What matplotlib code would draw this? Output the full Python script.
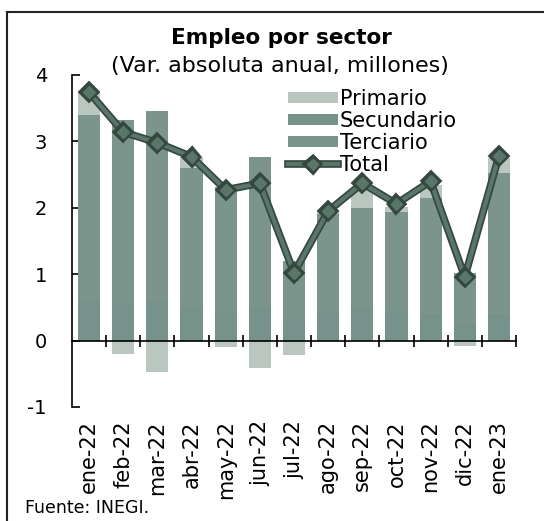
import numpy as np
import matplotlib
matplotlib.use("Agg")
import matplotlib.pyplot as plt
import matplotlib.patheffects as pe
from matplotlib.lines import Line2D

plt.rcParams['font.family'] = ['DejaVu Sans']
plt.rcParams['axes.unicode_minus'] = False

# data (millones, var. absoluta anual)
meses = ['ene-22', 'feb-22', 'mar-22', 'abr-22', 'may-22', 'jun-22', 'jul-22',
         'ago-22', 'sep-22', 'oct-22', 'nov-22', 'dic-22', 'ene-23']
secundario = [0.60, 0.55, 0.60, 0.50, 0.45, 0.50, 0.30, 0.45, 0.50, 0.45, 0.40, 0.25, 0.40]
terciario = [2.80, 2.77, 2.86, 2.10, 1.87, 2.26, 0.90, 1.45, 1.50, 1.49, 1.75, 0.77, 2.13]
primario = [0.34, -0.20, -0.48, 0.17, -0.10, -0.41, -0.22, 0.05, 0.30, 0.07, 0.20, -0.08, 0.22]
total = [3.74, 3.14, 2.98, 2.77, 2.27, 2.37, 1.02, 1.95, 2.37, 2.06, 2.40, 0.96, 2.78]

c_sec = '#77928a'
c_ter = '#7b958c'
c_pri = '#b9c7c0'
c_line = '#34483f'

fig = plt.figure(figsize=(5.44, 5.21), dpi=100)
ax = fig.add_axes([72/544, 1-407/521, (516-72)/544, (407-75)/521])

x = np.arange(len(meses))
w = 0.65

# stack positives up and negatives down
pos = np.zeros(len(x))
neg = np.zeros(len(x))
for vals, col, lab in [(secundario, c_sec, 'Secundario'),
                       (terciario, c_ter, 'Terciario'),
                       (primario, c_pri, 'Primario')]:
    v = np.array(vals)
    bottom = np.where(v >= 0, pos, neg)
    ax.bar(x, v, w, bottom=bottom, color=col, label=lab, zorder=2)
    pos = pos + np.where(v >= 0, v, 0)
    neg = neg + np.where(v < 0, v, 0)

ax.plot(x, total, color='#5a7569', lw=3, marker='D', ms=6, label='Total', zorder=3,
        path_effects=[pe.Stroke(linewidth=5.5, foreground=c_line), pe.Normal()])

ax.set_xlim(-0.5, 12.5)
ax.set_ylim(-1, 4)
ax.set_yticks([-1, 0, 1, 2, 3, 4])
ax.tick_params(axis='y', direction='in', length=6, width=1.2, labelsize=14, pad=18)

ax.spines['top'].set_visible(False)
ax.spines['right'].set_visible(False)
ax.spines['bottom'].set_position(('data', 0))
ax.spines['left'].set_linewidth(1.2)
ax.spines['bottom'].set_linewidth(1.2)

ax.set_xticks(x)
ax.set_xticks(list(x + 0.5), minor=True)
ax.tick_params(axis='x', which='major', length=0, labelbottom=False)
ax.tick_params(axis='x', which='minor', direction='inout', length=9, width=1.2)
for i, m in enumerate(meses):
    ax.text(i, -0.04, m, transform=ax.get_xaxis_transform(), rotation=90,
            ha='center', va='top', fontsize=15)

h, l = ax.get_legend_handles_labels()
order = [l.index(k) for k in ['Primario', 'Secundario', 'Terciario', 'Total']]
ax.legend([h[k] for k in order], [l[k] for k in order], loc='upper right',
          bbox_to_anchor=(0.89, 0.99), frameon=False, fontsize=15,
          handlelength=2.4, handleheight=0.45, handletextpad=0.1, labelspacing=0.1,
          borderpad=0)

fig.text(281/544, 1-38/521, 'Empleo por sector', ha='center', va='center',
         fontsize=15.5, fontweight='bold')
fig.text(280/544, 1-66/521, '(Var. absoluta anual, millones)', ha='center', va='center',
         fontsize=16)
fig.text(25/544, 1-508/521, 'Fuente: INEGI.', ha='left', va='center', fontsize=12.5)

# frame lines
fig.add_artist(Line2D([7/544, 7/544], [0, 1-12/521], color='#222222', lw=1.5))
fig.add_artist(Line2D([7/544, 1], [1-12/521, 1-12/521], color='#222222', lw=1.5))

fig.savefig('out.png', dpi=100)
